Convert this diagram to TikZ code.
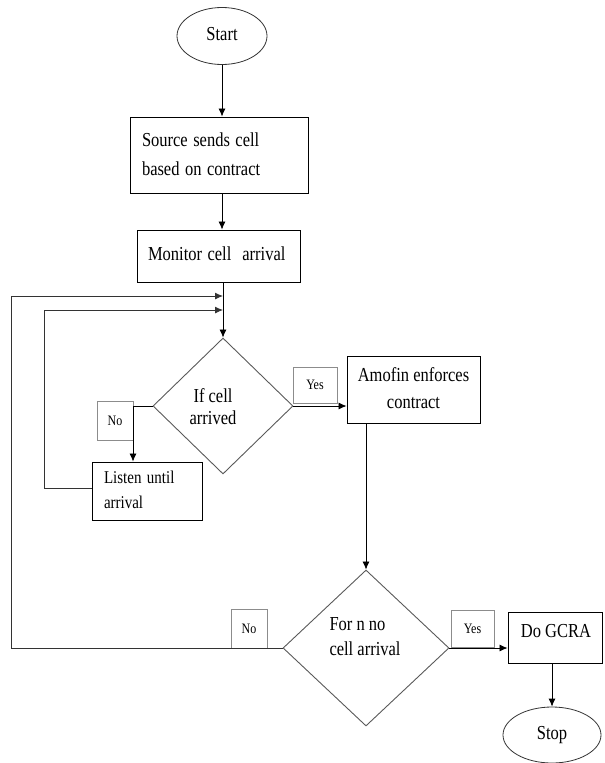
\documentclass[tikz,border=0pt]{standalone}
\usepackage{fontspec}
\usepackage{graphicx}
\setmainfont{Liberation Serif}
\usetikzlibrary{shapes.geometric,arrows.meta}
\newcommand{\vtext}[3][l]{\fontsize{16.5}{#2}\selectfont\scalebox{1}[1.2]{\begin{tabular}{@{}#1@{}}#3\end{tabular}}}
\begin{document}
\begin{tikzpicture}[x=1pt,y=-1pt,
  every node/.style={inner sep=0pt, font=\fontsize{16.5}{20}\selectfont},
  proc/.style={draw=black, line width=0.9pt, rectangle},
  term/.style={draw=black!80, line width=0.8pt, ellipse},
  decide/.style={draw=black!65, line width=0.9pt, diamond, inner sep=0pt},
  lbl/.style={draw=black!45, line width=0.8pt, rectangle, font=\fontsize{12}{14}\selectfont},
  conn/.style={draw=black, line width=0.8pt, -{Latex[length=8pt,width=7pt]}},
  loopline/.style={draw=black!80, line width=0.9pt, -{Latex[length=8pt,width=7pt]}}
]
\useasboundingbox (0,0) rectangle (605,763);

\node[term, minimum width=90pt, minimum height=57pt] (start) at (222,36) {\vtext{20}{Start}};
\node[proc, minimum width=178pt, minimum height=76pt, text width=154pt, align=left] (source) at (219,155) {\vtext{24}{Source sends cell\\based on contract}};
\node[proc, minimum width=163pt, minimum height=52pt, text width=141pt, align=left] (monitor) at (218.5,256) {\raisebox{3pt}{\vtext{20}{Monitor cell\ \ arrival}}};
\node[decide, minimum width=140pt, minimum height=136pt] (d1) at (223,406) {};
\node (d1text) at (213,409) {\vtext[c]{18.5}{If cell\\arrived}};
\node[proc, minimum width=110pt, minimum height=58pt, text width=86pt, align=left] (listen) at (147,491) {\vtext{21}{\fontsize{15}{21}\selectfont Listen until\\\fontsize{15}{21}\selectfont arrival}};
\node[proc, minimum width=133pt, minimum height=67pt, align=center] (amofin) at (413.5,389.5) {\vtext[c]{22.5}{Amofin enforces\\contract}};
\node[decide, minimum width=166pt, minimum height=156pt] (d2) at (366,648) {};
\node (d2text) at (365,638) {\vtext{21}{For n no\\cell arrival}};
\node[proc, minimum width=94pt, minimum height=51pt] (gcra) at (555,637.5) {};
\node (gcratext) at (556,633) {\vtext{20}{Do GCRA}};
\node[term, minimum width=98pt, minimum height=56pt] (stop) at (552,735) {\vtext{20}{Stop}};

\node[lbl, minimum width=36pt, minimum height=39pt] (no1) at (115,420.5) {\scalebox{1}[1.2]{No}};
\node[lbl, minimum width=44pt, minimum height=36pt] (yes1) at (315,385) {\scalebox{1}[1.2]{Yes}};
\node[lbl, minimum width=36pt, minimum height=39pt] (no2) at (249,628.5) {\scalebox{1}[1.2]{No}};
\node[lbl, minimum width=43pt, minimum height=37pt] (yes2) at (472.5,628.5) {\scalebox{1}[1.2]{Yes}};

\coordinate (m1) at (223,296);
\coordinate (m2) at (223,310);

\draw[conn] (start.south) -- (start.south |- source.north);
\draw[conn] (start.south |- source.south) -- (start.south |- monitor.north);
\draw[conn] (d1.north |- monitor.south) -- (d1.north);
\draw[conn] (d1.west) -| ([xshift=-14pt]listen.north);
\draw[loopline] ([yshift=3pt]listen.west) -- ++(-47pt,0) |- (m2);
\draw[conn] (d1.east) -- (d1.east -| amofin.west);
\draw[conn] (d2.north |- amofin.south) -- (d2.north);
\draw[conn] (d2.east) -- (d2.east -| gcra.west);
\draw[loopline] (d2.west) -- ++(-271pt,0) |- (m1);
\draw[conn] (stop.north |- gcra.south) -- (stop.north);
\end{tikzpicture}
\end{document}
